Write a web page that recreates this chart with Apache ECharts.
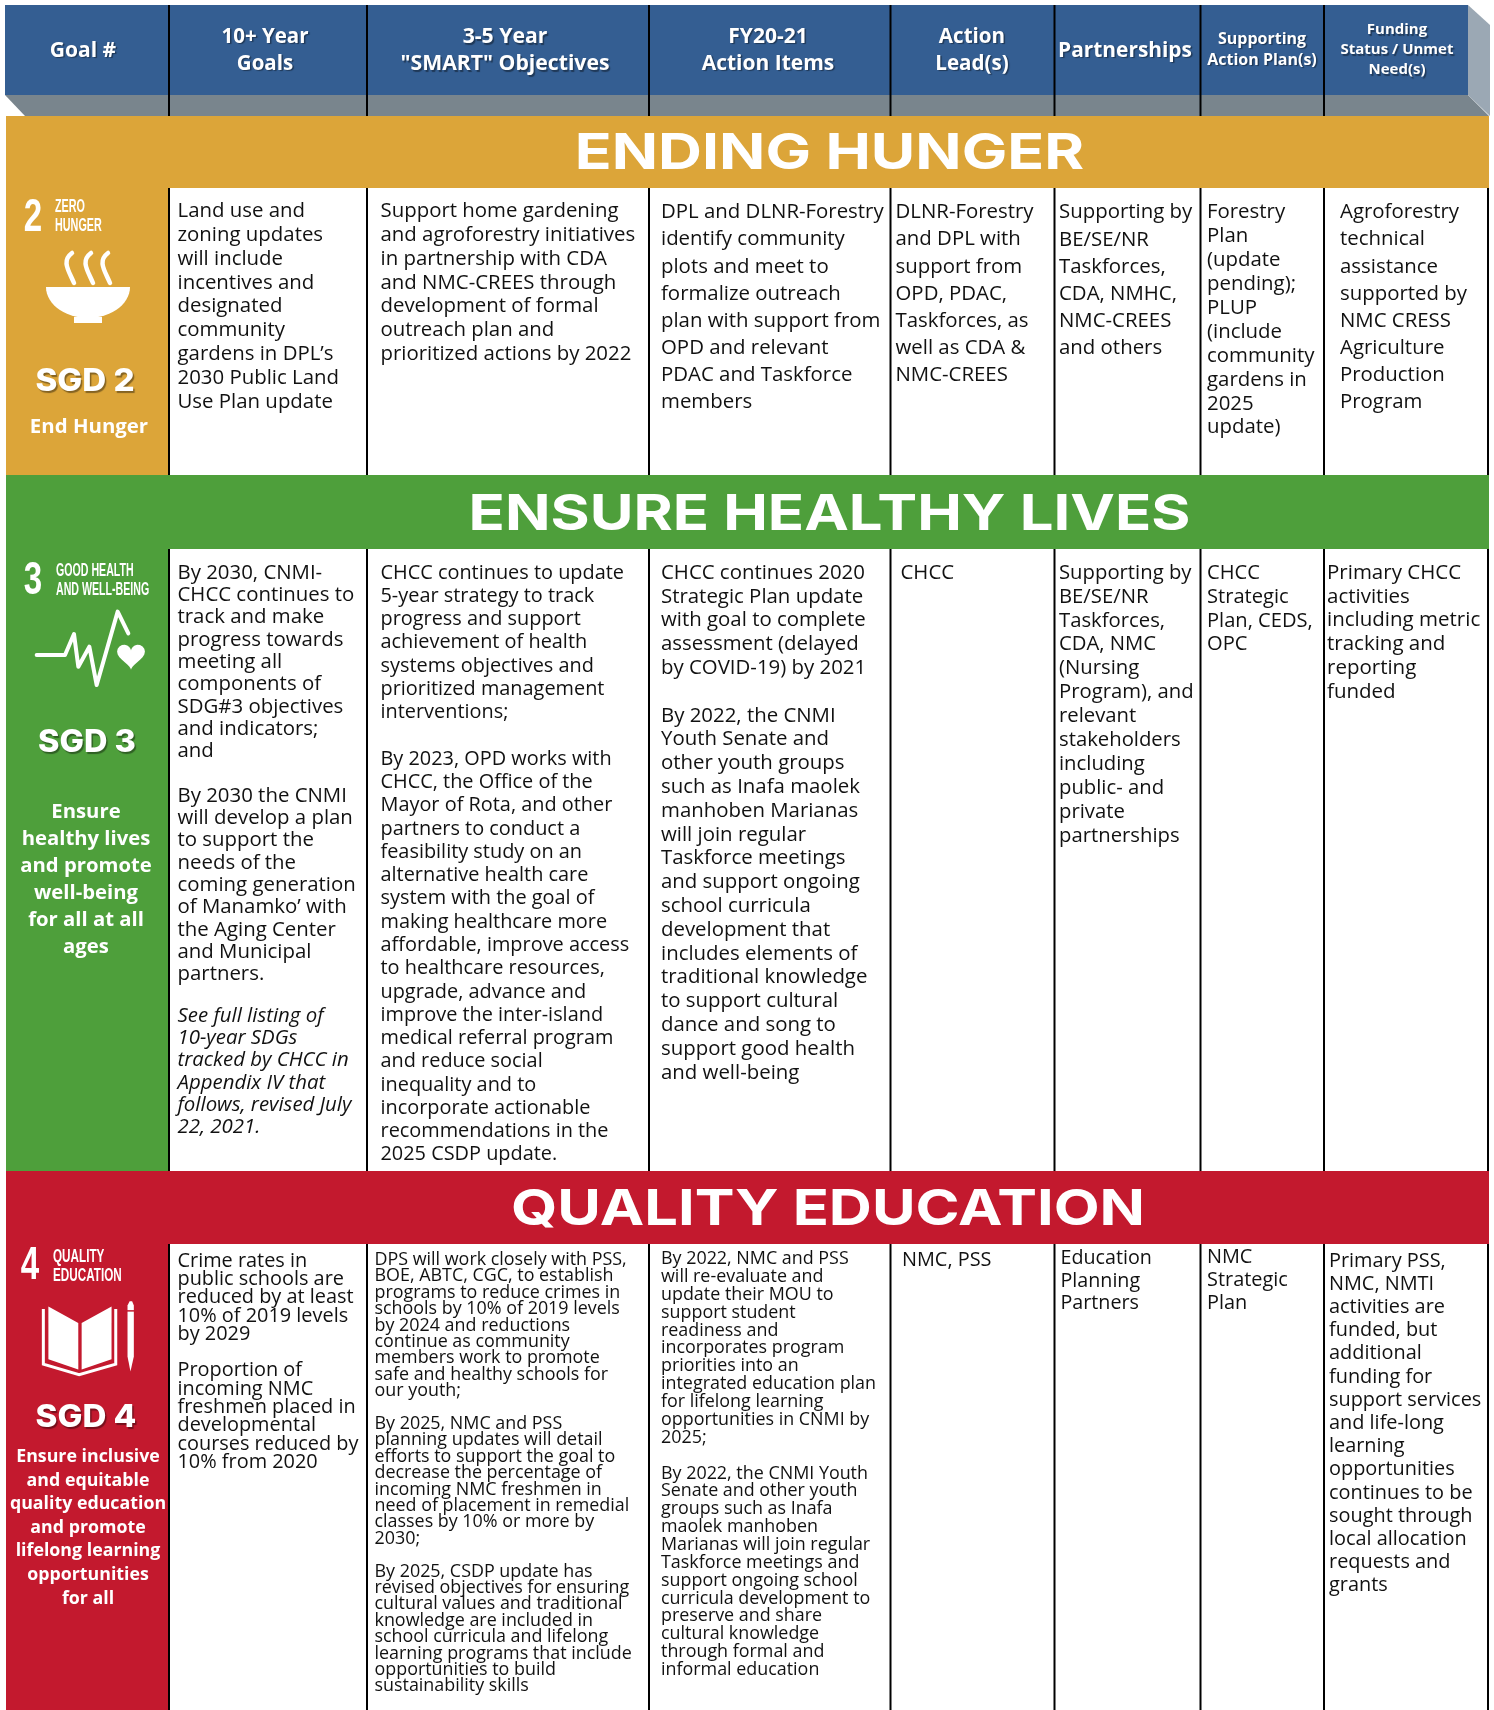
<!DOCTYPE html>
<html><head><meta charset="utf-8">
<style>html,body{margin:0;padding:0;background:#fff}#c{width:1494px;height:1710px}</style>
<script src="https://cdn.jsdelivr.net/npm/echarts@6/dist/echarts.min.js"></script>
</head><body><div id="c"></div>
<script>
// ---------- content ----------
const headerLabels = ['Goal #','10+ Year\nGoals','3-5 Year\n"SMART" Objectives','FY20-21\nAction Items','Action\nLead(s)','Partnerships','Supporting\nAction Plan(s)','Funding\nStatus / Unmet\nNeed(s)'];
const sectionTitles = ['ENDING HUNGER','ENSURE HEALTHY LIVES','QUALITY EDUCATION'];
const sdgNumbers = ['2','3','4'];
const sdgTags = ['ZERO\nHUNGER','GOOD HEALTH\nAND WELL-BEING','QUALITY\nEDUCATION'];
const sgdNames = ['SGD 2','SGD 3','SGD 4'];
const sgdGoals = ['End Hunger','Ensure\nhealthy lives\nand promote\nwell-being\nfor all at all\nages','Ensure inclusive\nand equitable\nquality education\nand promote\nlifelong learning\nopportunities\nfor all'];

const hungerCells = [
'Land use and\nzoning updates\nwill include\nincentives and\ndesignated\ncommunity\ngardens in DPL’s\n2030 Public Land\nUse Plan update',
'Support home gardening\nand agroforestry initiatives\nin partnership with CDA\nand NMC-CREES through\ndevelopment of formal\noutreach plan and\nprioritized actions by 2022',
'DPL and DLNR-Forestry\nidentify community\nplots and meet to\nformalize outreach\nplan with support from\nOPD and relevant\nPDAC and Taskforce\nmembers',
'DLNR-Forestry\nand DPL with\nsupport from\nOPD, PDAC,\nTaskforces, as\nwell as CDA &\nNMC-CREES',
'Supporting by\nBE/SE/NR\nTaskforces,\nCDA, NMHC,\nNMC-CREES\nand others',
'Forestry\nPlan\n(update\npending);\nPLUP\n(include\ncommunity\ngardens in\n2025\nupdate)',
'Agroforestry\ntechnical\nassistance\nsupported by\nNMC CRESS\nAgriculture\nProduction\nProgram'];

const healthCells = [
'By 2030, CNMI-\nCHCC continues to\ntrack and make\nprogress towards\nmeeting all\ncomponents of\nSDG#3 objectives\nand indicators;\nand\n\nBy 2030 the CNMI\nwill develop a plan\nto support the\nneeds of the\ncoming generation\nof Manamko’ with\nthe Aging Center\nand Municipal\npartners.',
'CHCC continues to update\n5-year strategy to track\nprogress and support\nachievement of health\nsystems objectives and\nprioritized management\ninterventions;\n\nBy 2023, OPD works with\nCHCC, the Office of the\nMayor of Rota, and other\npartners to conduct a\nfeasibility study on an\nalternative health care\nsystem with the goal of\nmaking healthcare more\naffordable, improve access\nto healthcare resources,\nupgrade, advance and\nimprove the inter-island\nmedical referral program\nand reduce social\ninequality and to\nincorporate actionable\nrecommendations in the\n2025 CSDP update.',
'CHCC continues 2020\nStrategic Plan update\nwith goal to complete\nassessment (delayed\nby COVID-19) by 2021\n\nBy 2022, the CNMI\nYouth Senate and\nother youth groups\nsuch as Inafa maolek\nmanhoben Marianas\nwill join regular\nTaskforce meetings\nand support ongoing\nschool curricula\ndevelopment that\nincludes elements of\ntraditional knowledge\nto support cultural\ndance and song to\nsupport good health\nand well-being',
'CHCC',
'Supporting by\nBE/SE/NR\nTaskforces,\nCDA, NMC\n(Nursing\nProgram), and\nrelevant\nstakeholders\nincluding\npublic- and\nprivate\npartnerships',
'CHCC\nStrategic\nPlan, CEDS,\nOPC',
'Primary CHCC\nactivities\nincluding metric\ntracking and\nreporting\nfunded'];
const healthNote = 'See full listing of\n10-year SDGs\ntracked by CHCC in\nAppendix IV that\nfollows, revised July\n22, 2021.';

const educationCells = [
'Crime rates in\npublic schools are\nreduced by at least\n10% of 2019 levels\nby 2029\n\nProportion of\nincoming NMC\nfreshmen placed in\ndevelopmental\ncourses reduced by\n10% from 2020',
'DPS will work closely with PSS,\nBOE, ABTC, CGC, to establish\nprograms to reduce crimes in\nschools by 10% of 2019 levels\nby 2024 and reductions\ncontinue as community\nmembers work to promote\nsafe and healthy schools for\nour youth;\n\nBy 2025, NMC and PSS\nplanning updates will detail\nefforts to support the goal to\ndecrease the percentage of\nincoming NMC freshmen in\nneed of placement in remedial\nclasses by 10% or more by\n2030;\n\nBy 2025, CSDP update has\nrevised objectives for ensuring\ncultural values and traditional\nknowledge are included in\nschool curricula and lifelong\nlearning programs that include\nopportunities to build\nsustainability skills',
'By 2022, NMC and PSS\nwill re-evaluate and\nupdate their MOU to\nsupport student\nreadiness and\nincorporates program\npriorities into an\nintegrated education plan\nfor lifelong learning\nopportunities in CNMI by\n2025;\n\nBy 2022, the CNMI Youth\nSenate and other youth\ngroups such as Inafa\nmaolek manhoben\nMarianas will join regular\nTaskforce meetings and\nsupport ongoing school\ncurricula development to\npreserve and share\ncultural knowledge\nthrough formal and\ninformal education',
'NMC, PSS',
'Education\nPlanning\nPartners',
'NMC\nStrategic\nPlan',
'Primary PSS,\nNMC, NMTI\nactivities are\nfunded, but\nadditional\nfunding for\nsupport services\nand life-long\nlearning\nopportunities\ncontinues to be\nsought through\nlocal allocation\nrequests and\ngrants'];

// ---------- layout and style ----------
const colX = [169,367,649,890.5,1054.5,1200.5,1324,1488];
const LEFT = 6, RIGHT = 1489;
const BLUE='#345e92', GREY='#79858d', SIDE='#9ba8b4', GOLD='#dca539', GREEN='#4e9f3b', RED='#c3192e', INK='#111';
const F = "'Open Sans'";
const sh = {textShadowColor:'rgba(0,0,0,0.4)',textShadowBlur:1,textShadowOffsetX:1.5,textShadowOffsetY:1.5};
const g = [];
const rect=(x,y,w,h,fill)=>g.push({type:'rect',silent:true,shape:{x,y,width:w,height:h},style:{fill}});
const poly=(points,fill)=>g.push({type:'polygon',silent:true,shape:{points},style:{fill}});
const vline=(x,y1,y2,w)=>g.push({type:'line',silent:true,shape:{x1:x,y1,x2:x,y2},style:{stroke:'#000',lineWidth:w||2}});
function text(x,yc,str,o){
  o=o||{};
  const lh=o.lh||24, size=o.size||20, w=o.weight||'normal', it=o.italic?'italic ':'';
  g.push({type:'text',silent:true,x,y:yc-lh/2,scaleX:o.sx||1,scaleY:o.sy||1,style:Object.assign({text:str,fill:o.fill||INK,
    font:`${it}${w} ${size}px ${o.family||F}`,lineHeight:lh,align:o.align||'left',verticalAlign:'top'},o.shadow?(o.shadowStyle||sh):{})});
}
// header
rect(LEFT-1,5,1468-LEFT+1,90,BLUE);
poly([[5,95],[1468,95],[1489,116],[25,116]],GREY);
poly([[1468,5],[1490,25],[1490,116],[1468,95]],SIDE);
const headX=[83,265,505,768,972,1125,1262,1397];
const headY=[51,37,37,37,37,51,39,30];
const headS=[{size:21,lh:27},{size:20.5,lh:27},{size:21.2,lh:27},{size:21,lh:27},{size:20.6,lh:27},{size:20.9,lh:27},{size:16,lh:21},{size:15,lh:20}];
headerLabels.forEach((t,i)=>text(headX[i],headY[i],t,{size:headS[i].size,lh:headS[i].lh,weight:'bold',fill:'#fff',align:'center',shadow:true}));
colX.slice(0,-1).forEach(x=>vline(x,5,116,2));

// section bands
const bands=[{y:116,b:188,body:475,c:GOLD},{y:475,b:549,body:1171,c:GREEN},{y:1171,b:1244,body:1710,c:RED}];
bands.forEach((s,i)=>{
  rect(LEFT,s.y,RIGHT-LEFT,s.b-s.y,s.c);
  rect(LEFT,s.b,colX[0]-LEFT,s.body-s.b,s.c);
  colX.forEach(x=>vline(x,s.b,s.body,2));
});
const titleShadow={textShadowColor:'rgba(0,0,0,0.45)',textShadowBlur:0,textShadowOffsetX:2,textShadowOffsetY:2};
const titleFont="Inter";
const titleX=[829.5,829.5,828];
const titleY=[154,515,1210];
const titleS=[1.216,1.196,1.192];
sectionTitles.forEach((t,i)=>text(titleX[i],titleY[i],t,{size:50,lh:60,weight:'700',family:titleFont,fill:'#fff',align:'center',sx:titleS[i],shadow:true,shadowStyle:titleShadow}));

// left column
const narrow="'Liberation Sans Narrow','Liberation Sans'";
const numX=[33,33,30], numY=[218,581,1266];
const tagX=[55,56,53], tagY=[216.5,580,1266], tagSx=[.6,.59,.65];
sdgNumbers.forEach((t,i)=>{
  text(numX[i],numY[i],t,{size:46,lh:46,weight:'bold',family:narrow,fill:'#fff',align:'center',sx:.72});
  text(tagX[i],tagY[i]-9,sdgTags[i],{size:18,lh:19,weight:'bold',family:narrow,fill:'#fff',sx:tagSx[i]});
});
const nameX=[85,87,86], nameY=[382,743,1418], nameSx=[1.07,1.05,1.07];
sgdNames.forEach((t,i)=>text(nameX[i],nameY[i],t,{size:31,lh:38,weight:'800',family:titleFont,fill:'#fff',align:'center',sx:nameSx[i],shadow:true}));
const goalX=[89,86,88], goalY=[427,812,1457], goalLh=[26,27.1,23.6], goalS=[20.4,20.3,17.8];
sgdGoals.forEach((t,i)=>text(goalX[i],goalY[i],t,{size:goalS[i],lh:goalLh[i],weight:'bold',fill:'#fff',align:'center'}));

// table cells: text x, first line centre, line height, size
const cellX=[[177.5,380.5,661,895.5,1059,1207,1340],[177.5,380.5,661,900.5,1059,1207,1327],[177.5,374.5,661,902,1060.5,1207,1329]];
const cellY=[[211,211,212.5,212.5,212.5,212.5,212.5],[573,573,573,573,573,573,573],[1261,1260,1259,1260,1258,1257,1261]];
const cellLh=[[23.9,23.9,27.1,27.1,27.2,23.9,27.1],[22.3,23.27,23.8,23.8,23.9,23.9,23.8],[18.3,16.4,17.87,23,22.9,23.4,23.2]];
const cellS=[[20.4,20.4,20.4,20.4,20.4,20.4,20.4],[20.4,19.9,20.4,20.4,20.3,20.1,20.5],[19.9,17.9,17.9,19.9,19.7,19.9,19.9]];
[hungerCells,healthCells,educationCells].forEach((row,r)=>row.forEach((t,c)=>
  text(cellX[r][c],cellY[r][c],t,{size:cellS[r][c],lh:cellLh[r][c]})));
text(177.5,1016,healthNote,{size:20.4,lh:22.3,italic:true});

// icons
(function(){ // bowl and steam
  const cx=88,top=287,r=42,pts=[];
  for(let a=0;a<=180;a+=6){const q=a*Math.PI/180;pts.push([cx+r*Math.cos(q),top+31*Math.sin(q)]);}
  poly(pts,'#fff'); rect(cx-14,top+30,28,6,'#fff');
  [72,91,108].forEach(x=>{
    g.push({type:'bezierCurve',silent:true,shape:{x1:x,y1:253,cpx1:x-11,cpy1:261,cpx2:x-3,cpy2:271,x2:x+2,y2:283},style:{stroke:'#fff',fill:null,lineWidth:4.5,lineCap:'round'}});
  });
})();
// heartbeat + heart
g.push({type:'polyline',silent:true,shape:{points:[[110,555],[195,555],[222,492],[235,590],[268,530],[290,645],[353,425],[385,490]].map(p=>[p[0]/3,p[1]/3+470])},style:{stroke:'#fff',fill:null,lineWidth:4,lineJoin:'round',lineCap:'round'}});
(function(){
  const pts=[];
  for(let a=0;a<360;a+=10){const t=a*Math.PI/180;
    pts.push([131+0.87*Math.pow(Math.sin(t),3)*16, 655-0.87*(13*Math.cos(t)-5*Math.cos(2*t)-2*Math.cos(3*t)-Math.cos(4*t))]);}
  poly(pts,'#fff');
})();
// book + pencil
(function(){
  const X=x=>x/2.376, Y=y=>y/2.851+1160;
  const P=a=>a.map(p=>[X(p[0]),Y(p[1])]);
  poly(P([[115,418],[186,465],[186,597],[115,568]]),'#fff');
  poly(P([[194,465],[265,418],[265,568],[194,597]]),'#fff');
  g.push({type:'polyline',silent:true,shape:{points:P([[103,425],[103,582],[188,612],[275,582],[275,425]])},style:{stroke:'#fff',fill:null,lineWidth:3}});
  poly(P([[303,415],[308,403],[314,403],[318,415],[318,560],[310,603],[303,560]]),'#fff');
  rect(X(300),Y(428),X(22),1.5,RED);
})();

const chart=echarts.init(document.getElementById('c'),null,{renderer:'canvas'});
chart.setOption({animation:false,backgroundColor:'#fff',graphic:{elements:g}});
</script></body></html>
